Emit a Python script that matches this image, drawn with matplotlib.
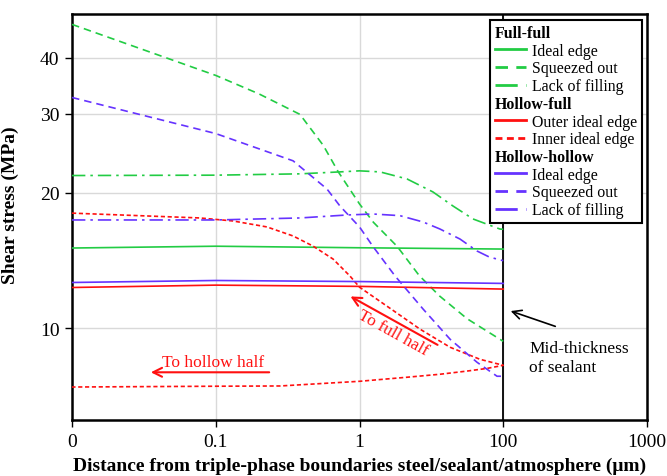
"""
Shear stress along the sealant edge for the three joint geometries.
"""

import matplotlib

matplotlib.use("Agg")
import matplotlib.pyplot as plt
from matplotlib.lines import Line2D

# axis ticks (positions on the log axis and the labels printed under them)
x_ticks = [0.01, 0.1, 1, 10, 100]
x_tick_labels = ["0", "0.1", "1", "100", "1000"]
y_ticks = [10, 20, 30, 40]

# Full-full
ff_ideal_x = [0.01, 0.1, 1, 10]
ff_ideal_y = [15.08, 15.22, 15.1, 15.0]
ff_squeezed_x = [0.01, 0.1, 0.2, 0.385, 0.56, 0.71, 1.0, 1.25, 1.83, 2.6, 3.6, 5.6, 10]
ff_squeezed_y = [47.4, 36.5, 33.2, 29.9, 25.5, 22.3, 18.9, 17.2, 15.2, 13.1, 11.8, 10.5, 9.35]
ff_lack_x = [0.01, 0.1, 0.385, 0.73, 1.0, 1.39, 2.14, 3.24, 4.47, 6.16, 9.48, 10]
ff_lack_y = [21.86, 21.9, 22.05, 22.27, 22.39, 22.27, 21.48, 20.1, 18.7, 17.5, 16.62, 16.6]

# Hollow-full
hf_outer_x = [0.01, 0.1, 1, 10]
hf_outer_y = [12.32, 12.47, 12.39, 12.22]
# inner edge: full-half branch out to mid-thickness, then hollow-half branch back
hf_inner_x = [0.01, 0.0776, 0.132, 0.227, 0.345, 0.475, 0.655, 0.859, 1.0, 1.55,
              2.64, 4.27, 6.88, 10,
              7.71, 5.6, 3.63, 2.14, 1.0, 0.281, 0.1, 0.01]
hf_inner_y = [18.03, 17.59, 17.32, 16.8, 16.04, 15.23, 14.25, 13.06, 12.34, 11.2,
              9.95, 9.07, 8.53, 8.27,
              8.14, 8.03, 7.9, 7.78, 7.62, 7.44, 7.43, 7.4]

# Hollow-hollow
hh_ideal_x = [0.01, 0.1, 1, 10]
hh_ideal_y = [12.64, 12.77, 12.7, 12.58]
hh_squeezed_x = [0.01, 0.1, 0.345, 0.594, 0.731, 1.0, 1.24, 1.77, 2.77, 4.27, 6.57, 9.05, 10]
hh_squeezed_y = [32.6, 27.1, 23.57, 20.4, 18.7, 16.8, 15.2, 13.06, 11.03, 9.45, 8.4, 7.82, 7.82]
hh_lack_x = [0.01, 0.1, 0.385, 0.818, 1.24, 1.91, 2.77, 3.63, 5.0, 6.57, 8.0, 10]
hh_lack_y = [17.41, 17.41, 17.59, 17.86, 17.95, 17.8, 17.23, 16.62, 15.79, 14.85, 14.4, 14.13]

GREEN = "#22cc44"
RED = "#ff1010"
PURPLE = "#6633ff"

SOLID = "-"
SQUEEZED = (0, (4.5, 3))
INNER = (0, (2.5, 1.6))
LACK = (0, (8, 3, 1.5, 3))


def main():
    plt.rcParams["font.family"] = ["Liberation Serif", "DejaVu Serif"]
    fig = plt.figure(figsize=(6.67, 4.77), dpi=100)
    ax = fig.add_axes([0.108, 0.1174, 0.862, 0.8512])

    lw = 1.2
    series = [
        (ff_ideal_x, ff_ideal_y, GREEN, SOLID),
        (ff_squeezed_x, ff_squeezed_y, GREEN, SQUEEZED),
        (ff_lack_x, ff_lack_y, GREEN, LACK),
        (hf_outer_x, hf_outer_y, RED, SOLID),
        (hf_inner_x, hf_inner_y, RED, INNER),
        (hh_ideal_x, hh_ideal_y, PURPLE, SOLID),
        (hh_squeezed_x, hh_squeezed_y, PURPLE, SQUEEZED),
        (hh_lack_x, hh_lack_y, PURPLE, LACK),
    ]
    for xs, ys, color, ls in series:
        ax.plot(xs, ys, color=color, linestyle=ls, linewidth=lw, zorder=3)

    ax.set_xscale("log")
    ax.set_yscale("log")
    ax.set_xlim(0.01, 100)
    ax.set_ylim(6.25, 50)
    ax.set_xticks(x_ticks)
    ax.set_xticklabels(x_tick_labels)
    ax.set_yticks(y_ticks)
    ax.set_yticklabels([str(v) for v in y_ticks])
    ax.minorticks_off()
    ax.tick_params(direction="out", length=5, width=1, labelsize=14, pad=4)
    ax.grid(True, color="#d9d9d9", linewidth=1, zorder=0)
    ax.set_axisbelow(True)
    for sp in ax.spines.values():
        sp.set_color("black")
        sp.set_linewidth(1.8)

    # mid-thickness of the sealant
    ax.axvline(10, color="black", linewidth=1.3, zorder=2)

    ax.set_xlabel("Distance from triple-phase boundaries steel/sealant/atmosphere (μm)",
                  fontsize=14, fontweight="bold", labelpad=5)
    ax.set_ylabel("Shear stress (MPa)", fontsize=14, fontweight="bold")
    ax.yaxis.set_label_coords(-0.092, 0.532)

    # annotations
    ax.annotate("", xy=(0.0338, 7.98), xytext=(0.246, 7.98),
                arrowprops=dict(arrowstyle="->", color=RED, lw=1.5, mutation_scale=16))
    ax.text(0.0423, 8.08, "To hollow half", color=RED, fontsize=12.5,
            ha="left", va="bottom")
    ax.annotate("", xy=(0.832, 11.85), xytext=(3.63, 9.12),
                arrowprops=dict(arrowstyle="->", color=RED, lw=1.5, mutation_scale=16))
    ax.text(1.7, 9.8, "To full half", color=RED, fontsize=12.5, rotation=-29,
            ha="center", va="center", rotation_mode="anchor")
    ax.annotate("", xy=(10.8, 10.97), xytext=(24.0, 10.05),
                arrowprops=dict(arrowstyle="->", color="black", lw=1.2, mutation_scale=16))
    ax.text(15.1, 8.62, "Mid-thickness\nof sealant", color="black", fontsize=12.5,
            ha="left", va="center", linespacing=1.25)

    # grouped legend
    blank = Line2D([], [], linestyle="none")
    handles = [
        blank,
        Line2D([], [], color=GREEN, linestyle=SOLID, linewidth=2),
        Line2D([], [], color=GREEN, linestyle=SQUEEZED, linewidth=2),
        Line2D([], [], color=GREEN, linestyle=LACK, linewidth=2),
        blank,
        Line2D([], [], color=RED, linestyle=SOLID, linewidth=2),
        Line2D([], [], color=RED, linestyle=INNER, linewidth=2),
        blank,
        Line2D([], [], color=PURPLE, linestyle=SOLID, linewidth=2),
        Line2D([], [], color=PURPLE, linestyle=SQUEEZED, linewidth=2),
        Line2D([], [], color=PURPLE, linestyle=LACK, linewidth=2),
    ]
    labels = ["Full-full", "Ideal edge", "Squeezed out", "Lack of filling",
              "Hollow-full", "Outer ideal edge", "Inner ideal edge",
              "Hollow-hollow", "Ideal edge", "Squeezed out", "Lack of filling"]
    headers = {0, 4, 7}
    leg = ax.legend(handles, labels, loc="upper right", bbox_to_anchor=(0.991, 0.985),
                    borderaxespad=0, fontsize=11.4, handlelength=2.0,
                    handletextpad=0.35, labelspacing=0.11, borderpad=0.3,
                    fancybox=False, framealpha=1, edgecolor="black")
    leg.get_frame().set_linewidth(1.5)
    rows = [row for col in leg._legend_handle_box.get_children()
            for row in col.get_children()]
    for i, row in enumerate(rows):
        if i in headers:
            row.get_children()[0].set_width(0)
            row.sep = 0
            leg.get_texts()[i].set_fontweight("bold")

    fig.savefig("out.png", dpi=100)


if __name__ == "__main__":
    main()
